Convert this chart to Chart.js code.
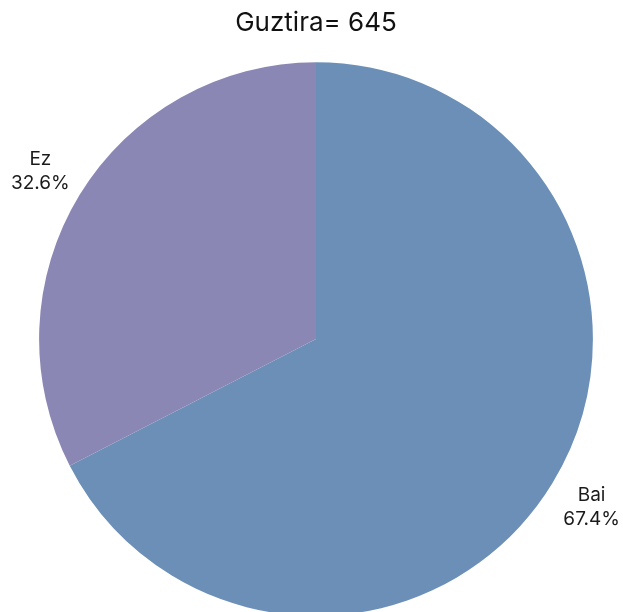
<!DOCTYPE html>
<html>
<head>
<meta charset="utf-8">
<script src="https://cdn.jsdelivr.net/npm/chart.js@4.4.1/dist/chart.umd.min.js"></script>
<style>
  html, body { margin: 0; padding: 0; background: #fff; overflow: hidden; }
  #pie { display: block; }
</style>
</head>
<body>
<canvas id="pie" width="623" height="620"></canvas>
<script>
'use strict';

var categories = ['Bai', 'Ez'];
var counts = [435, 210];
var total = 645;
var colours = ['#6c8fb7', '#8a87b4'];

// draw "name\nxx.x%" outside each slice
var outsideLabels = {
  id: 'outsideLabels',
  afterDatasetsDraw: function(chart) {
    var ctx = chart.ctx;
    var meta = chart.getDatasetMeta(0);
    ctx.save();
    ctx.font = '19px Inter, "Noto Sans", sans-serif';
    ctx.fillStyle = '#1a1a1a';
    ctx.textAlign = 'center';
    ctx.textBaseline = 'middle';
    meta.data.forEach(function(arc, i) {
      var p = arc.getProps(['x', 'y', 'startAngle', 'endAngle', 'outerRadius'], true);
      var mid = (p.startAngle + p.endAngle) / 2;
      var r = p.outerRadius + 46;
      var x = p.x + Math.cos(mid) * r;
      var y = p.y + Math.sin(mid) * r;
      var pct = (counts[i] / total * 100).toFixed(1) + '%';
      ctx.fillText(categories[i], x, y - 12);
      ctx.fillText(pct, x, y + 12);
    });
    ctx.restore();
  }
};

var ctx = document.getElementById('pie');

var myChart = new Chart(ctx, {
  type: 'pie',
  data: {
    labels: categories,
    datasets: [{
      data: counts,
      backgroundColor: colours,
      borderWidth: 0
    }]
  },
  options: {
    responsive: false,
    animation: false,
    layout: {
      padding: { left: 9, right: 0, top: 0, bottom: 4 }
    },
    plugins: {
      legend: { display: false },
      tooltip: { enabled: false },
      title: {
        display: true,
        text: 'Guztira= ' + total,
        color: '#111',
        font: { family: 'Inter, "Noto Sans", sans-serif', size: 26, weight: 'normal', lineHeight: 1.2 },
        padding: { top: 8, bottom: 23 }
      }
    }
  },
  plugins: [outsideLabels]
});
</script>
</body>
</html>
